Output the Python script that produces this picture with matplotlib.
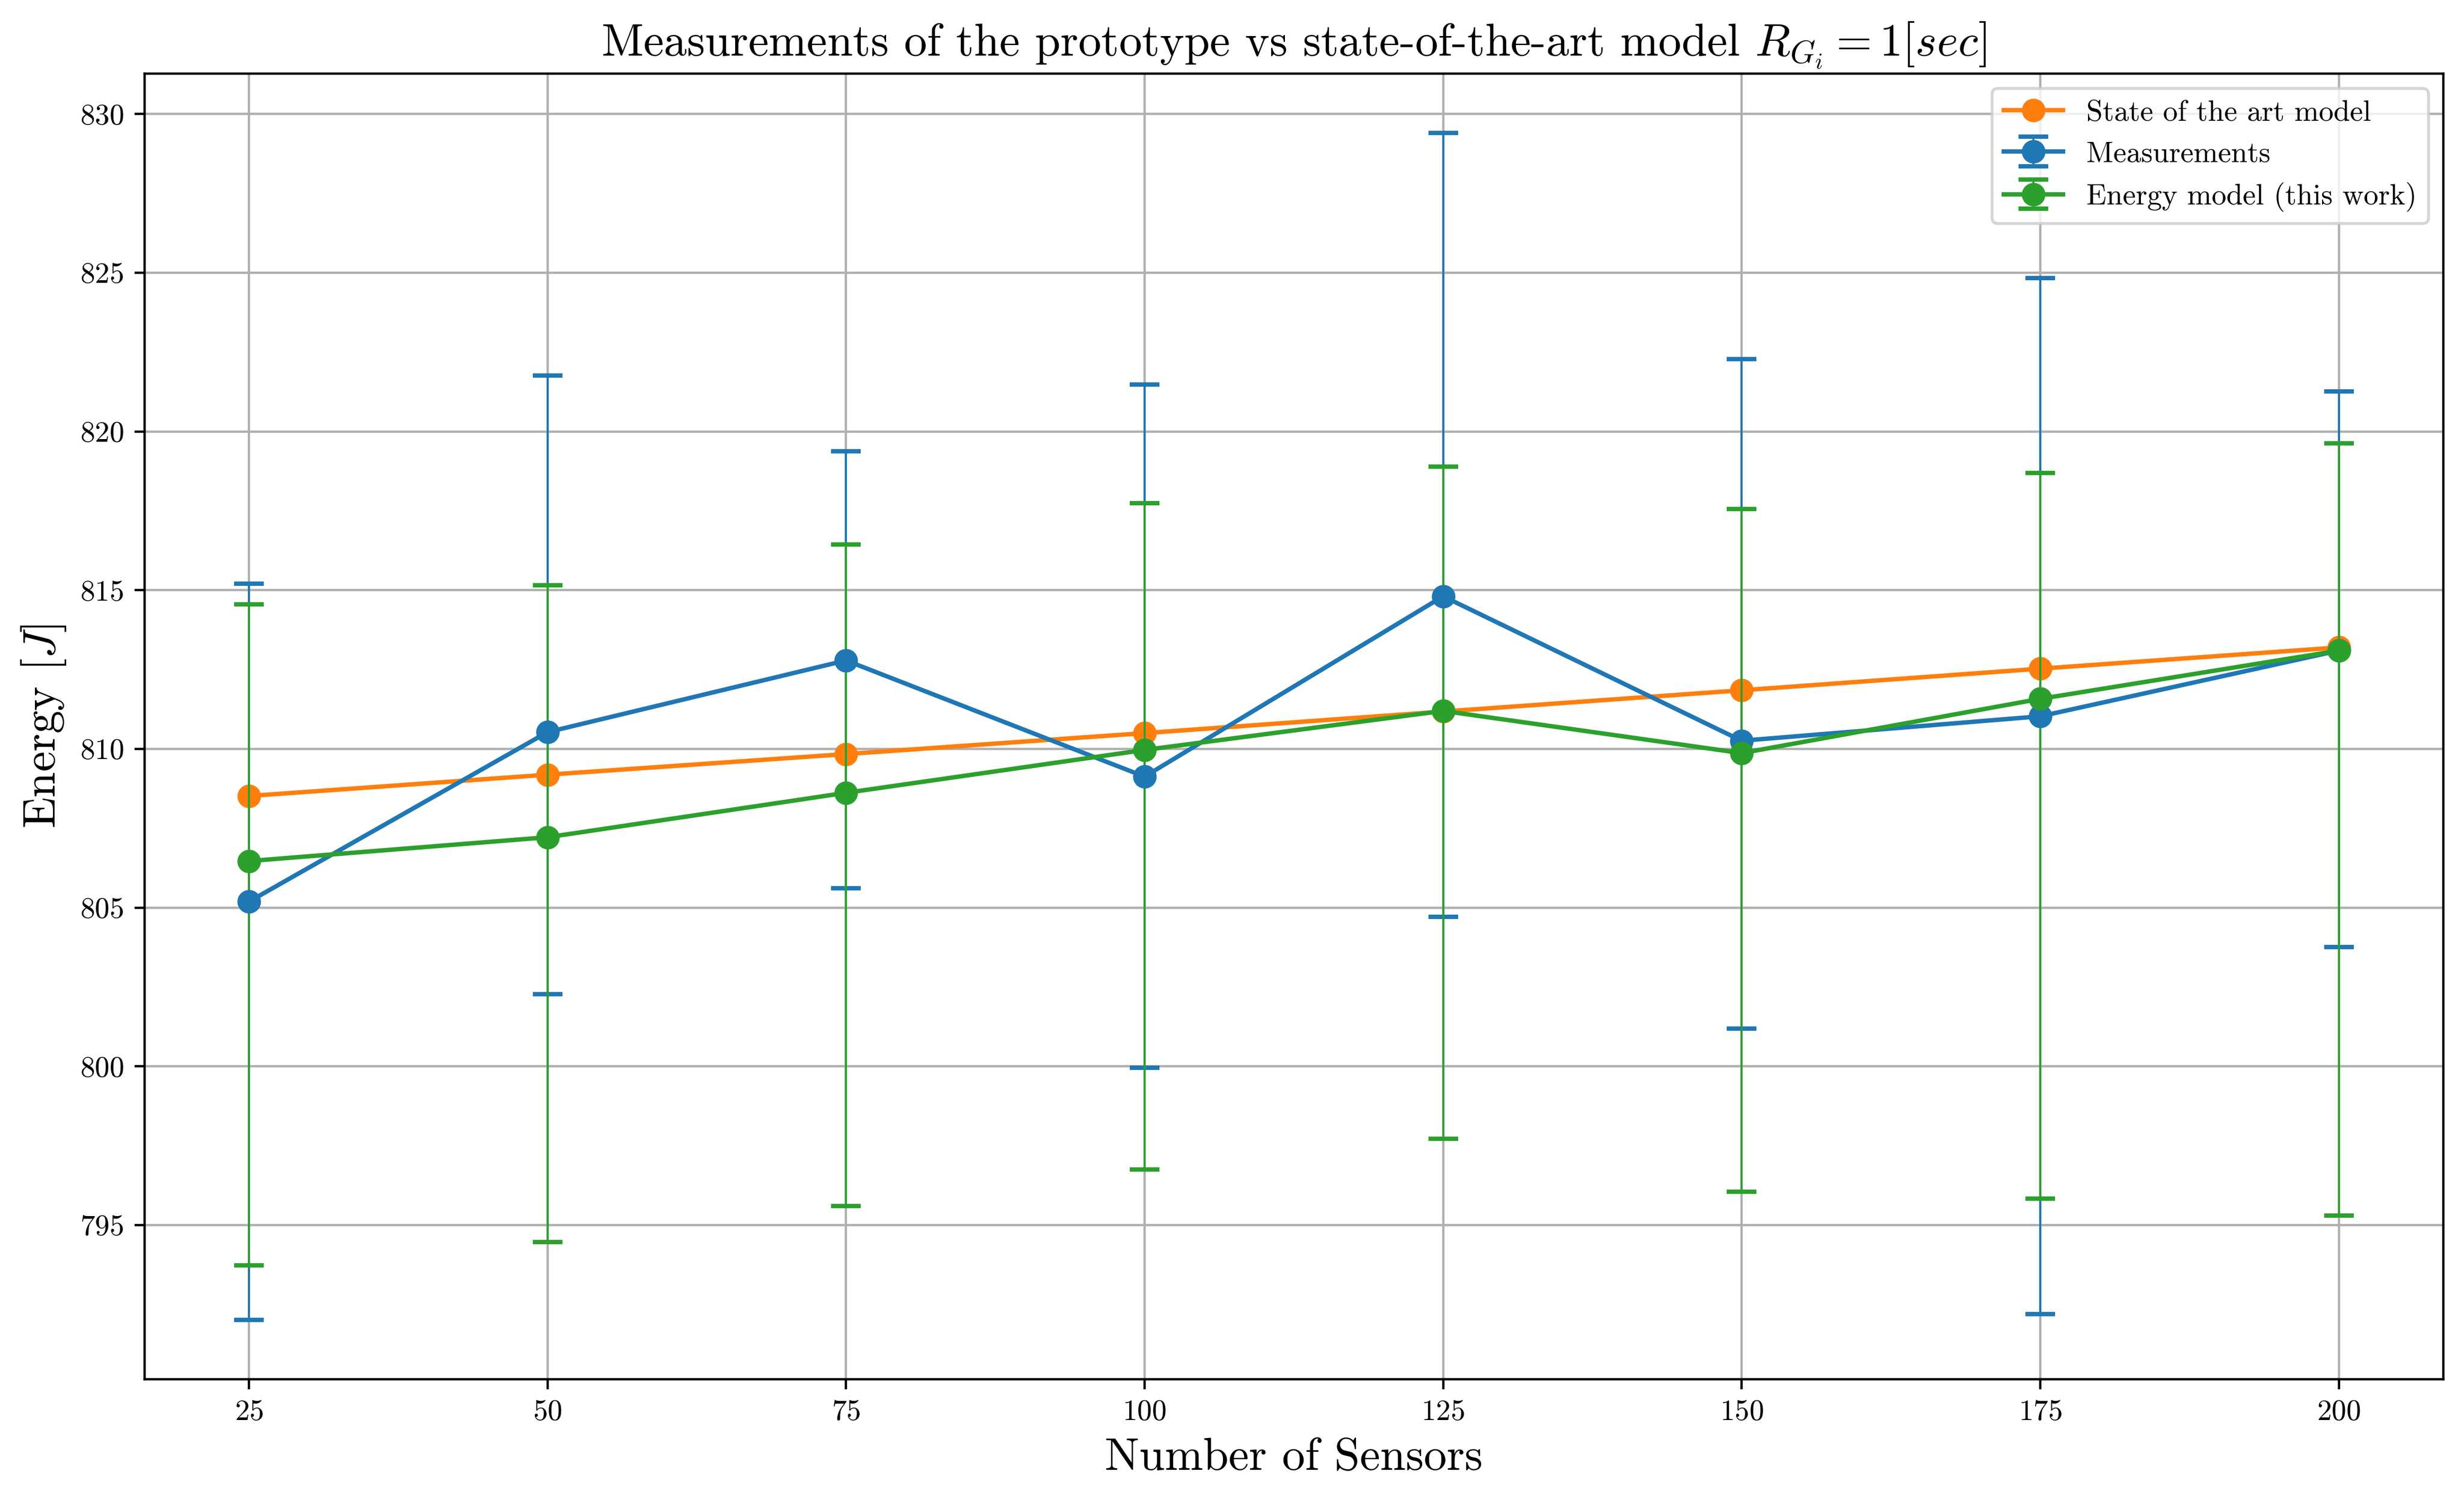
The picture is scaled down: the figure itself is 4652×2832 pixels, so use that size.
import matplotlib
matplotlib.use("Agg")
import matplotlib.pyplot as plt
import numpy as np

plt.rcParams["font.family"] = "serif"
plt.rcParams["font.serif"] = ["cmr10", "DejaVu Serif"]
plt.rcParams["mathtext.fontset"] = "cm"
plt.rcParams["axes.formatter.use_mathtext"] = True

sensors = [25, 50, 75, 100, 125, 150, 175, 200]

# measurements: mean and error bar ends
meas_mean = [805.19, 810.53, 812.79, 809.13, 814.81, 810.26, 811.03, 813.10]
meas_low = [792.02, 802.28, 805.62, 799.96, 804.72, 801.20, 792.20, 803.76]
meas_high = [815.21, 821.76, 819.38, 821.48, 829.41, 822.28, 824.83, 821.26]

# state of the art model
sota = [808.52, 809.19, 809.84, 810.50, 811.18, 811.85, 812.53, 813.20]

# energy model (this work)
model_mean = [806.47, 807.22, 808.62, 809.97, 811.20, 809.87, 811.58, 813.10]
model_low = [793.73, 794.46, 795.60, 796.76, 797.72, 796.06, 795.83, 795.31]
model_high = [814.56, 815.15, 816.45, 817.74, 818.89, 817.56, 818.69, 819.63]


def asym_err(mean, low, high):
    mean = np.array(mean)
    return [mean - np.array(low), np.array(high) - mean]


fig = plt.figure(figsize=(11.63, 7.08), dpi=400)
ax = fig.add_axes([0.0586, 0.0806, 0.9330, 0.8704])

ax.errorbar(sensors, meas_mean, yerr=asym_err(meas_mean, meas_low, meas_high),
            fmt="-o", color="C0", markersize=7, linewidth=1.5,
            elinewidth=0.7, capsize=5, capthick=1.5, label="Measurements")
ax.plot(sensors, sota, "-o", color="C1", markersize=7, linewidth=1.5,
        label="State of the art model")
ax.errorbar(sensors, model_mean, yerr=asym_err(model_mean, model_low, model_high),
            fmt="-o", color="C2", markersize=7, linewidth=1.5,
            elinewidth=0.7, capsize=5, capthick=1.5, label="Energy model (this work)")

ax.set_xticks(sensors)
ax.grid(True)
ax.set_xlabel("Number of Sensors", fontsize=15.6)
ax.set_ylabel(r"Energy $[J]$", fontsize=15.6)
ax.set_title(r"Measurements of the prototype vs state-of-the-art model $R_{G_i} = 1[sec]$",
             fontsize=15.6)
ax.legend(loc="upper right")

fig.savefig("out.png", dpi=400)
